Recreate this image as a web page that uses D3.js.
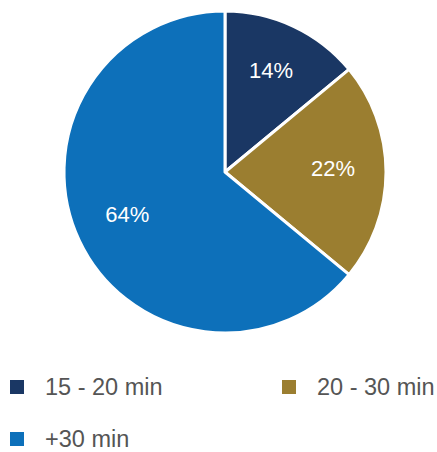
<!DOCTYPE html>
<html>
<head>
<meta charset="utf-8">
<script src="https://cdn.jsdelivr.net/npm/d3@7"></script>
<style>
  html, body { margin: 0; padding: 0; background: #fff; }
  svg { display: block; font-family: "Liberation Sans", Arial, Helvetica, sans-serif; }
</style>
</head>
<body>
<svg id="chart" width="437" height="452"></svg>
<script>
// Commute time shares
const categories = ["15 - 20 min", "20 - 30 min", "+30 min"];
const shares = [14, 22, 64];
const colors = ["#1a3764", "#9b7e30", "#0d70ba"];

const W = 437, H = 452;
const cx = 225, cy = 172, radius = 161;

const svg = d3.select("#chart");

const color = d3.scaleOrdinal().domain(categories).range(colors);

const pie = d3.pie().sort(null).value(d => d.value);
const data = categories.map((c, i) => ({ name: c, value: shares[i] }));
const arcs = pie(data);

const arc = d3.arc().innerRadius(0).outerRadius(radius);
const labelArc = d3.arc().innerRadius(108).outerRadius(108);

const g = svg.append("g").attr("transform", `translate(${cx},${cy})`);

g.selectAll("path.slice")
  .data(arcs)
  .join("path")
  .attr("class", "slice")
  .attr("d", arc)
  .attr("fill", d => color(d.data.name))
  .attr("stroke", "#fff")
  .attr("stroke-width", 3)
  .attr("stroke-linejoin", "round");

g.selectAll("text.value")
  .data(arcs)
  .join("text")
  .attr("class", "value")
  .attr("transform", d => {
    const [x, y] = labelArc.centroid(d);
    return `translate(${x},${y - 4})`;
  })
  .attr("text-anchor", "middle")
  .attr("dy", "0.35em")
  .attr("fill", "#fff")
  .attr("font-size", 22)
  .text(d => d.data.value + "%");

// Legend: two columns, wrapping rows
const legendPos = [
  { x: 10, y: 395 },
  { x: 282, y: 395 },
  { x: 10, y: 447 }
];

const legend = svg.selectAll("g.legend-item")
  .data(categories)
  .join("g")
  .attr("class", "legend-item")
  .attr("transform", (d, i) => `translate(${legendPos[i].x},${legendPos[i].y})`);

legend.append("rect")
  .attr("x", 0)
  .attr("y", -15)
  .attr("width", 14)
  .attr("height", 14)
  .attr("fill", d => color(d));

legend.append("text")
  .attr("x", 35)
  .attr("y", 0)
  .attr("fill", "#555")
  .attr("font-size", 23.5)
  .text(d => d);
</script>
</body>
</html>
